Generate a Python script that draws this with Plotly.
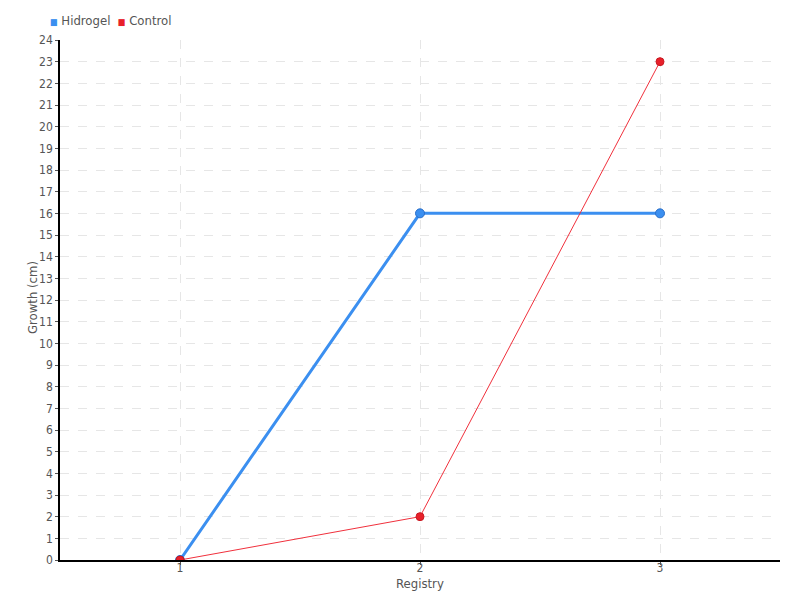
import plotly.graph_objects as go

registry = ["1", "2", "3"]
hidrogel = [0, 16, 16]
control = [0, 2, 23]
y_ticks = list(range(0, 25))

font_family = "DejaVu Sans Condensed, DejaVu Sans, sans-serif"
blue = "#3b8ff0"
red = "#e8202a"
grey = "#555555"

# page body has an 8px margin, so the figure is shrunk/offset accordingly
W, H = 792, 592
ML, MR, MT, MB = 52, 20, 32, 40
PW, PH = W - ML - MR, H - MT - MB


def px(fx):
    return (fx - ML) / PW


def py(fy):
    return (H - MB - fy) / PH


fig = go.Figure()
fig.add_trace(go.Scatter(
    x=registry, y=hidrogel, name="Hidrogel", mode="lines+markers",
    line=dict(color=blue, width=3),
    marker=dict(size=9, color=blue, line=dict(color="#2a6fc9", width=1)),
    showlegend=False,
))
fig.add_trace(go.Scatter(
    x=registry, y=control, name="Control", mode="lines+markers",
    line=dict(color="#f0303c", width=1),
    marker=dict(size=8, color=red, line=dict(color="#c81a22", width=1)),
    showlegend=False,
))

legend_text = (f"<span style='color:{blue};font-size:9px'>■</span> Hidrogel  "
               f"<span style='color:{red};font-size:9px'>■</span> Control")

fig.update_layout(
    width=W, height=H,
    margin=dict(l=ML, r=MR, t=MT, b=MB, autoexpand=False),
    plot_bgcolor="white", paper_bgcolor="white",
    font=dict(family=font_family, size=12, color=grey),
    showlegend=False,
    xaxis=dict(
        type="category", range=[-0.5, 2.5], automargin=False,
        showline=True, linecolor="black", linewidth=1.5,
        ticks="outside", ticklen=3, tickcolor=grey,
        ticklabelstandoff=-7,
        showgrid=True, gridcolor="#e6e6e6", griddash="dash", gridwidth=1,
        zeroline=False,
    ),
    yaxis=dict(
        range=[0, 24], tickmode="array", tickvals=y_ticks, automargin=False,
        showline=True, linecolor="black", linewidth=1.5,
        ticks="outside", ticklen=3, tickcolor=grey,
        showgrid=True, gridcolor="#e6e6e6", griddash="dash", gridwidth=1,
        zeroline=False,
    ),
    annotations=[
        dict(text="Registry", xref="paper", yref="paper", x=0.5, y=py(575),
             xanchor="center", yanchor="middle", showarrow=False,
             font=dict(size=13, color=grey)),
        dict(text="Growth (cm)", xref="paper", yref="paper", x=px(24), y=py(290),
             xanchor="center", yanchor="middle", showarrow=False, textangle=-90,
             font=dict(size=13, color=grey)),
        dict(text=legend_text, xref="paper", yref="paper", x=px(40), y=py(13),
             xanchor="left", yanchor="middle", showarrow=False,
             font=dict(size=13, color=grey)),
    ],
)

fig.write_html("out.html")
